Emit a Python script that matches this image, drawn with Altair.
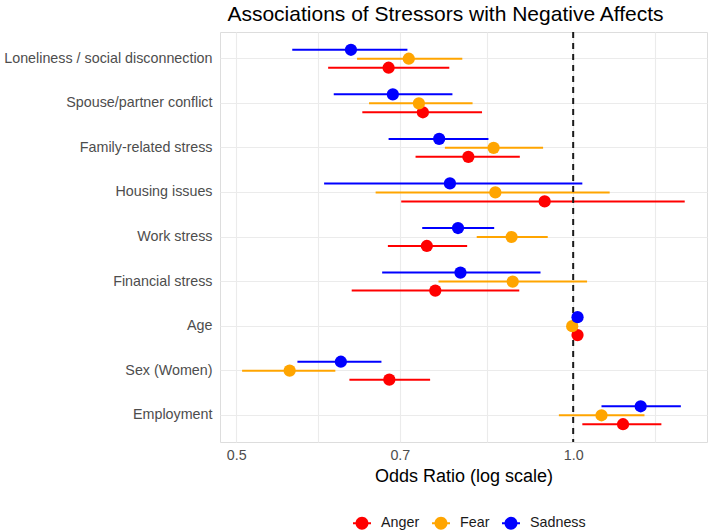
import altair as alt
import pandas as pd

# Stressors, top to bottom
stressors = [
    "Loneliness / social disconnection",
    "Spouse/partner conflict",
    "Family-related stress",
    "Housing issues",
    "Work stress",
    "Financial stress",
    "Age",
    "Sex (Women)",
    "Employment",
]
affects = ["Anger", "Fear", "Sadness"]
affect_colors = ["#FF0000", "#FFA500", "#0000FF"]

# Odds ratios and 95% CI bounds per affect, in stressor order
anger_or = [0.684, 0.734, 0.806, 0.943, 0.740, 0.753, 1.009, 0.685, 1.108]
anger_lo = [0.604, 0.648, 0.723, 0.702, 0.683, 0.634, 1.005, 0.631, 1.019]
anger_hi = [0.775, 0.829, 0.896, 1.258, 0.804, 0.895, 1.013, 0.745, 1.199]

fear_or = [0.713, 0.728, 0.849, 0.852, 0.881, 0.883, 0.998, 0.558, 1.060]
fear_lo = [0.641, 0.657, 0.768, 0.666, 0.820, 0.758, 0.994, 0.506, 0.971]
fear_hi = [0.796, 0.813, 0.940, 1.078, 0.949, 1.029, 1.002, 0.613, 1.158]

sad_or = [0.633, 0.690, 0.759, 0.776, 0.789, 0.793, 1.009, 0.620, 1.149]
sad_lo = [0.561, 0.611, 0.684, 0.599, 0.733, 0.675, 1.005, 0.567, 1.060]
sad_hi = [0.711, 0.780, 0.840, 1.019, 0.850, 0.935, 1.013, 0.674, 1.248]

# Axis breaks on the log scale: labelled majors and unlabelled minors
major_breaks = [0.5, 0.7, 1.0]
minor_breaks = [0.5916, 0.8367, 1.1832]
x_domain = [0.4835, 1.317]
reference_or = [1.0]

rows = []
for affect, ors, los, his in [
    ("Anger", anger_or, anger_lo, anger_hi),
    ("Fear", fear_or, fear_lo, fear_hi),
    ("Sadness", sad_or, sad_lo, sad_hi),
]:
    for s, o, lo, hi in zip(stressors, ors, los, his):
        rows.append({"Stressor": s, "Affect": affect, "OR": o, "lo": lo, "hi": hi})
df = pd.DataFrame(rows)

font = "Liberation Sans"
grid_values = sorted(major_breaks + minor_breaks)
major_test = " || ".join(f"abs(datum.value - {v}) < 0.001" for v in major_breaks)

x_scale = alt.Scale(type="log", domain=x_domain, nice=False, zero=False)
y_enc = alt.Y(
    "Stressor:N",
    sort=stressors,
    scale=alt.Scale(paddingInner=0, paddingOuter=0.1),
    axis=alt.Axis(
        title=None,
        ticks=False,
        domain=False,
        labelFont=font,
        labelFontSize=14.3,
        labelColor="#4D4D4D",
        labelPadding=8,
        labelLimit=300,
        grid=True,
        gridColor="#EBEBEB",
        gridWidth=1.1,
        bandPosition=0.5,
    ),
)
offset_enc = alt.YOffset(
    "Affect:N",
    sort=["Sadness", "Fear", "Anger"],
    scale=alt.Scale(paddingInner=0, paddingOuter=0.98),
)
color_enc = alt.Color(
    "Affect:N",
    scale=alt.Scale(domain=affects, range=affect_colors),
    legend=alt.Legend(
        title=None,
        orient="none",
        direction="horizontal",
        legendX=133,
        legendY=482,
        labelFont=font,
        labelFontSize=14.3,
        labelColor="#1A1A1A",
        labelOffset=10,
        columnPadding=12,
        symbolType="M-1,-0.11H1V0.11H-1Z M0.72,0A0.72,0.72 0 1,1 -0.72,0A0.72,0.72 0 1,1 0.72,0Z",
        symbolSize=324,
        symbolStrokeWidth=0,
        symbolOpacity=1,
    ),
)

base = alt.Chart(df)

ci = base.mark_rule(strokeWidth=2).encode(
    x=alt.X(
        "lo:Q",
        scale=x_scale,
        title="Odds Ratio (log scale)",
        axis=alt.Axis(
            values=grid_values,
            labelExpr=f"({major_test}) ? format(datum.value, '.1f') : ''",
            ticks=False,
            domain=False,
            labelFont=font,
            labelFontSize=14.3,
            labelColor="#4D4D4D",
            labelPadding=6,
            labelFlush=False,
            titleFont=font,
            titleFontSize=18,
            titleFontWeight="normal",
            titleColor="#000000",
            titlePadding=5,
            grid=True,
            gridColor="#EBEBEB",
            gridWidth=1.1,
        ),
    ),
    x2="hi:Q",
    y=y_enc,
    yOffset=offset_enc,
    color=color_enc,
)

ref = alt.Chart(pd.DataFrame({"OR": reference_or})).mark_rule(
    color="#1A1A1A", strokeDash=[6, 5], strokeWidth=2
).encode(x=alt.X("OR:Q", scale=x_scale))

pts = base.mark_circle(size=150, opacity=1).encode(
    x=alt.X("OR:Q", scale=x_scale),
    y=y_enc,
    yOffset=offset_enc,
    color=color_enc,
)

chart = (
    alt.layer(ci, ref, pts)
    .properties(
        width=487,
        height=410,
        title=alt.Title(
            "Associations of Stressors with Negative Affects",
            font=font,
            fontSize=21,
            fontWeight="normal",
            color="#000000",
            anchor="middle",
            dx=-18,
            offset=6,
        ),
        autosize=alt.AutoSizeParams(type="none"),
        padding={"left": 220, "top": 32, "right": 2, "bottom": 90},
    )
    .configure_view(stroke=None)
    .configure(background="white")
)

chart.save("out.html", embed_options={"renderer": "svg", "actions": False})
